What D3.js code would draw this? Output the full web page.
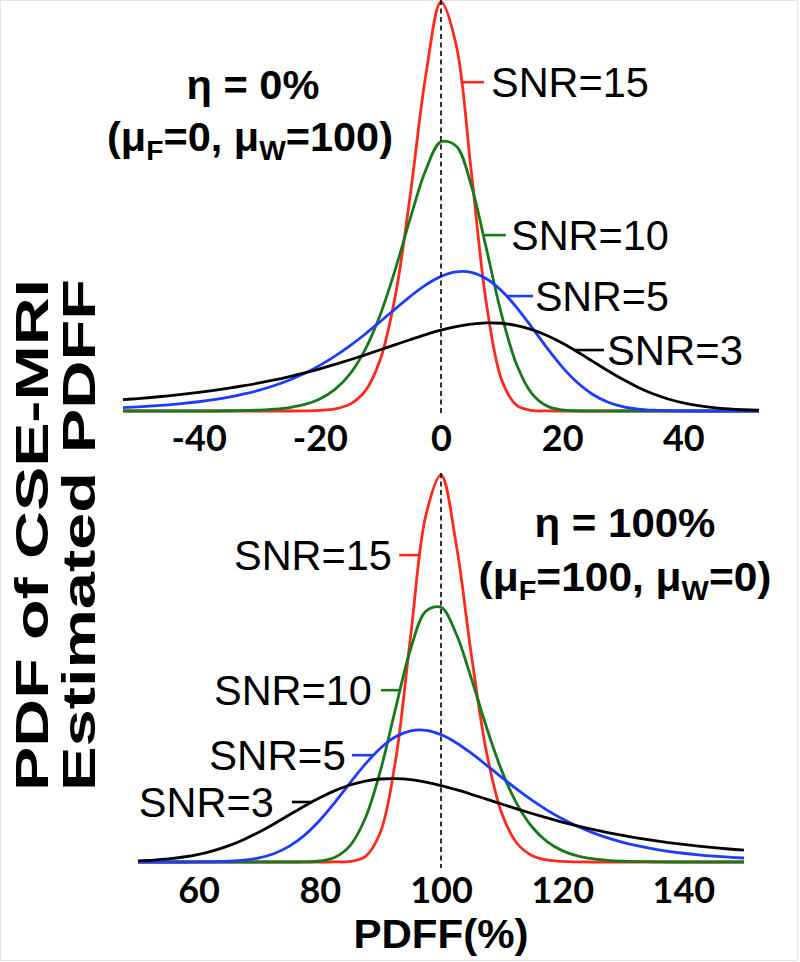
<!DOCTYPE html>
<html><head><meta charset="utf-8">
<script src="https://cdn.jsdelivr.net/npm/d3@7"></script>
<style>html,body{margin:0;padding:0;background:#fff;} svg{display:block;}</style>
</head><body>
<svg id="chart" width="800" height="962"></svg>
<script>
// ---------- DATA ----------
// Top panel: eta = 0%, PDFF estimate (%) vs relative density (red peak = 100)
const topX = [-52.5,-50,-47.5,-45,-42.5,-40,-37.5,-35,-32.5,-30,-27.5,-25,-22.5,-20,-17.5,-15,-12.5,-10,-7.5,-5,-2.5,0,2.5,5,7.5,10,12.5,15,17.5,20,22.5,25,27.5,30,32.5,35,37.5,40,42.5,45,47.5,50,52.5];
const topSNR15 = [0,0,0,0,0,0,0,0,0,0,0,0,0.04,0.15,0.52,1.68,4.91,12.72,28.49,53.64,82.18,100,89.55,58.5,26.24,7.67,1.38,0.14,0.01,0,0,0,0,0,0,0,0,0,0,0,0,0,0];
const topSNR10 = [0,0,0,0,0,0,0,0.06,0.12,0.23,0.44,0.85,1.6,2.94,5.27,9.11,15.08,23.68,34.84,47.46,58.99,65.83,64.78,55.11,39.65,23.57,11.29,4.25,1.22,0.26,0.04,0,0,0,0,0,0,0,0,0,0,0,0];
const topSNR5  = [0.85,1.03,1.25,1.52,1.85,2.26,2.77,3.39,4.16,5.09,6.23,7.59,9.23,11.16,13.41,15.97,18.82,21.89,25.04,28.11,30.83,32.91,34.02,33.89,32.35,29.41,25.29,20.45,15.43,10.79,6.95,4.1,2.21,1.08,0.48,0.19,0.07,0.02,0,0,0,0,0];
const topSNR3  = [2.77,3.05,3.36,3.71,4.1,4.54,5.03,5.58,6.18,6.86,7.61,8.43,9.33,10.32,11.39,12.53,13.73,14.98,16.24,17.49,18.68,19.75,20.63,21.26,21.55,21.45,20.9,19.89,18.44,16.6,14.47,12.19,9.9,7.74,5.83,4.22,2.94,1.98,1.29,0.82,0.51,0.31,0.19];

// Bottom panel: eta = 100%
const botX = [50,52.5,55,57.5,60,62.5,65,67.5,70,72.5,75,77.5,80,82.5,85,87.5,90,92.5,95,97.5,100,102.5,105,107.5,110,112.5,115,117.5,120,122.5,125,127.5,130,132.5,135,137.5,140,142.5,145,147.5,150];
const botSNR15 = [0,0,0,0,0,0,0,0,0,0,0,0,0,0.01,0.14,1.38,7.67,26.24,58.5,89.55,100,82.18,53.64,28.49,12.72,4.91,1.68,0.52,0.15,0.04,0,0,0,0,0,0,0,0,0,0,0];
const botSNR10 = [0,0,0,0,0,0,0,0,0,0,0,0.04,0.26,1.22,4.25,11.29,23.57,39.65,55.11,64.78,65.83,58.99,47.46,34.84,23.68,15.08,9.11,5.27,2.94,1.6,0.85,0.44,0.23,0.12,0.06,0,0,0,0,0,0];
const botSNR5  = [0,0,0,0,0.02,0.07,0.19,0.48,1.08,2.21,4.1,6.95,10.79,15.43,20.45,25.29,29.41,32.35,33.89,34.02,32.91,30.83,28.11,25.04,21.89,18.82,15.97,13.41,11.16,9.23,7.59,6.23,5.09,4.16,3.39,2.77,2.26,1.85,1.52,1.25,1.03];
const botSNR3  = [0.31,0.51,0.82,1.29,1.98,2.94,4.22,5.83,7.74,9.9,12.19,14.47,16.6,18.44,19.89,20.9,21.45,21.55,21.26,20.63,19.75,18.68,17.49,16.24,14.98,13.73,12.53,11.39,10.32,9.33,8.43,7.61,6.86,6.18,5.58,5.03,4.54,4.1,3.71,3.36,3.05];

const seriesNames = ["SNR=15","SNR=10","SNR=5","SNR=3"];
const topTicks = [-40,-20,0,20,40];
const topTickLabels = ["-40","-20","0","20","40"];
const botTicks = [60,80,100,120,140];
const botTickLabels = ["60","80","100","120","140"];
const xAxisTitle = "PDFF(%)";
const yAxisTitle = ["PDF of CSE-MRI","Estimated PDFF"];

// ---------- STYLE / LAYOUT ----------
const colors = ["#ff2a1c","#17791a","#1d3cff","#000000"];
const svg = d3.select("#chart");
svg.append("rect").attr("x",0.5).attr("y",0.5).attr("width",797).attr("height",960)
  .attr("fill","#fff").attr("stroke","#e4e4e4").attr("stroke-width",1);

const BOLD = "'Liberation Sans', Arial, sans-serif";

function fitText(parent, segs, o) {
  const g = parent.append("g");
  const t = g.append("text")
    .attr("font-family", o.family || BOLD)
    .attr("font-weight", o.weight || "bold")
    .attr("font-size", o.size)
    .attr("text-anchor", o.anchor || "middle")
    .attr("fill", "#000");
  if (typeof segs === "string") segs = [{t: segs}];
  let shifted = 0;
  const sh = o.subShift || 9;
  segs.forEach(s => {
    const sp = t.append("tspan").text(s.t);
    if (s.sub) { sp.attr("font-size", o.size * 0.68).attr("dy", sh - shifted); shifted = sh; }
    else if (shifted) { sp.attr("dy", -shifted); shifted = 0; }
  });
  const w = t.node().getBBox().width;
  const sc = o.width ? o.width / w : 1;
  g.attr("transform", `translate(${o.x},${o.y}) rotate(${o.rotate || 0}) scale(${sc},${o.sy || 1})`);
  return g;
}

// crossing of a level on one side of the peak (linear interpolation on the read data)
function crossing(xs, vs, level, side) {
  const pk = vs.indexOf(d3.max(vs));
  if (side === "right") {
    for (let i = pk; i < vs.length - 1; i++)
      if (vs[i] >= level && vs[i+1] < level)
        return xs[i] + (vs[i] - level) / (vs[i] - vs[i+1]) * (xs[i+1] - xs[i]);
  } else {
    for (let i = pk; i > 0; i--)
      if (vs[i] >= level && vs[i-1] < level)
        return xs[i] - (vs[i] - level) / (vs[i] - vs[i-1]) * (xs[i] - xs[i-1]);
  }
  return xs[pk];
}

const panels = [
  { xs: topX, series: [topSNR15, topSNR10, topSNR5, topSNR3],
    xDomain: [-52.5, 52.5], xRange: [123, 759], yRange: [411, 2], ref: 0, dashY: [0, 416],
    ticks: topTicks, tickLabels: topTickLabels, tickBase: 451, side: "right",
    ann: [ {level: 80.4, tx: 8.25, tend: 7.1, w: 158},
           {level: 43.0, tx: 11.55, tend: 10.7, w: 158},
           {level: 28.1, tx: 15.5, tend: 15.2, w: 134},
           {level: 14.9, tx: 27.4, tend: 26.9, w: 136} ],
    title: {x: 253, y: 99, w: 133, text: "η = 0%"},
    sub: {x: 250, y: 151, w: 286, segs: [{t:"(μ"},{t:"F",sub:true},{t:"=0, μ"},{t:"W",sub:true},{t:"=100)"}]} },
  { xs: botX, series: [botSNR15, botSNR10, botSNR5, botSNR3],
    xDomain: [50, 150], xRange: [138, 744], yRange: [862, 475], ref: 100, dashY: [473, 868],
    ticks: botTicks, tickLabels: botTickLabels, tickBase: 903, side: "left",
    ann: [ {level: 79.3, tx: 91.9, tend: 93.1, w: 158},
           {level: 44.4, tx: 88.6, tend: 90.1, w: 158},
           {level: 27.6, tx: 84.3, tend: 85.3, w: 137},
           {level: 15.5, tx: 72.4, tend: 75.4, w: 135} ],
    title: {x: 625, y: 537, w: 181, text: "η = 100%"},
    sub: {x: 625, y: 591, w: 293, segs: [{t:"(μ"},{t:"F",sub:true},{t:"=100, μ"},{t:"W",sub:true},{t:"=0)"}]} }
];

panels.forEach(p => {
  const x = d3.scaleLinear().domain(p.xDomain).range(p.xRange);
  const y = d3.scaleLinear().domain([0, 100]).range(p.yRange);
  const line = d3.line().x((d, i) => x(p.xs[i])).y(d => y(d)).curve(d3.curveCatmullRom.alpha(0.5));

  p.series.forEach((vs, k) => {
    svg.append("path").attr("d", line(vs)).attr("fill", "none")
      .attr("stroke", colors[k]).attr("stroke-width", 2.8).attr("stroke-linejoin", "round");
  });

  svg.append("line").attr("x1", x(p.ref)).attr("x2", x(p.ref))
    .attr("y1", p.dashY[0]).attr("y2", p.dashY[1])
    .attr("stroke", "#000").attr("stroke-width", 1.6).attr("stroke-dasharray", "5,3.5");

  p.ann.forEach((a, k) => {
    const cx = crossing(p.xs, p.series[k], a.level, p.side);
    const yy = y(a.level);
    svg.append("line").attr("x1", x(cx)).attr("x2", x(a.tend)).attr("y1", yy).attr("y2", yy)
      .attr("stroke", colors[k]).attr("stroke-width", 2.6);
    fitText(svg, seriesNames[k], {x: x(a.tx), y: yy + 15, size: 40, weight: "normal",
      anchor: p.side === "right" ? "start" : "end", width: a.w, sy: 1.05});
  });

  const ax = d3.axisBottom(x).tickValues(p.ticks).tickFormat((d, i) => p.tickLabels[i]).tickSize(0).tickPadding(0);
  const g = svg.append("g").attr("transform", `translate(0,${p.tickBase})`).call(ax);
  g.select(".domain").remove();
  g.selectAll("text").attr("y", 0).attr("dy", 0)
    .attr("font-family", "Lato, 'Open Sans', sans-serif").attr("font-weight", "bold")
    .attr("font-size", 36).attr("fill", "#000");

  fitText(svg, p.title.text, {x: p.title.x, y: p.title.y, size: 39, width: p.title.w, sy: 1.05});
  fitText(svg, p.sub.segs, {x: p.sub.x, y: p.sub.y, size: 38, width: p.sub.w, sy: 1.05});
});

fitText(svg, xAxisTitle, {x: 441, y: 948, size: 39, width: 175, sy: 1.05});
fitText(svg, yAxisTitle[0], {x: 48, y: 535, size: 46, width: 512, rotate: -90});
fitText(svg, yAxisTitle[1], {x: 95, y: 535, size: 46, width: 512, rotate: -90});
</script>
</body></html>
